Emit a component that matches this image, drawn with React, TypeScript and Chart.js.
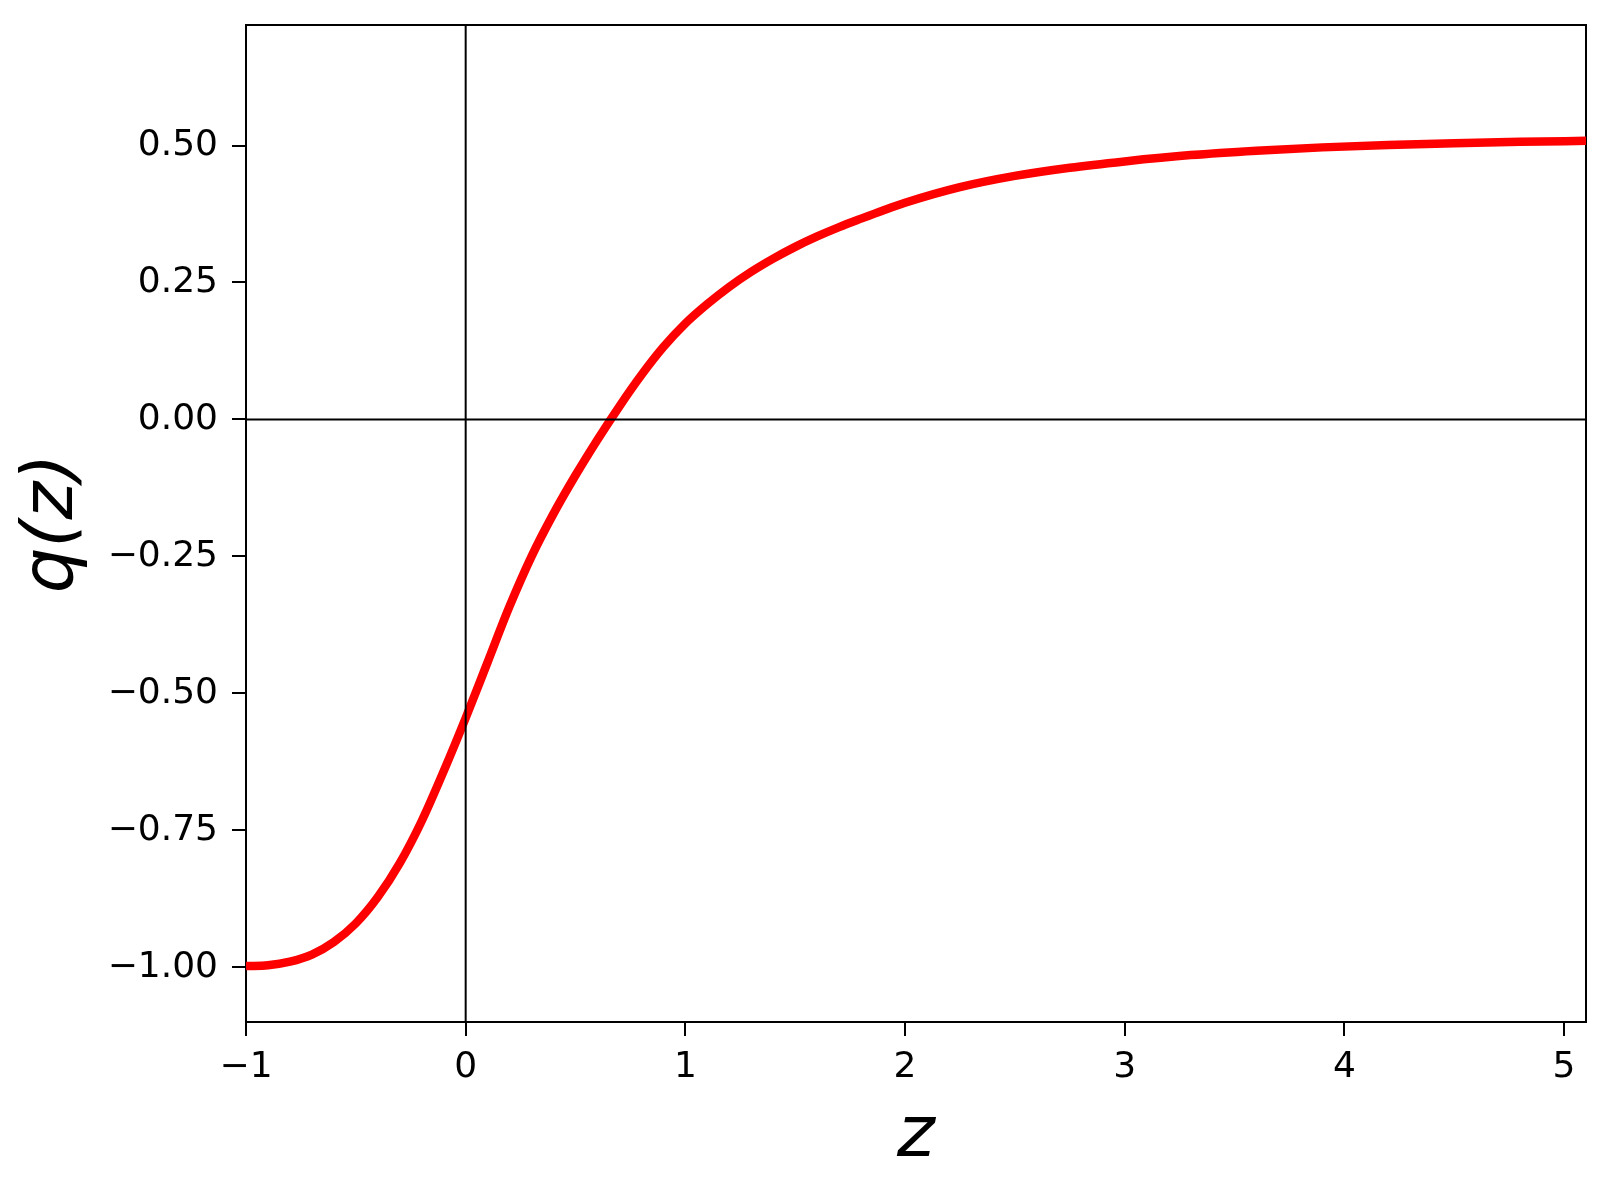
import React, { useEffect, useRef } from "react";
import { Chart, registerables } from "chart.js";

Chart.register(...registerables);

// ---- data ----
const zValues = [
  -1.0, -0.9, -0.8, -0.7, -0.6, -0.5, -0.4, -0.3, -0.2, -0.1,
  0.0, 0.1, 0.2, 0.3, 0.4, 0.5, 0.6, 0.7, 0.8, 0.9,
  1.0, 1.1, 1.2, 1.3, 1.4, 1.5, 1.6, 1.7, 1.8, 1.9,
  2.0, 2.25, 2.5, 2.75, 3.0, 3.3, 3.6, 3.9, 4.2, 4.5,
  4.8, 5.1,
];
const qValues = [
  -0.998, -0.9965, -0.99, -0.977, -0.954, -0.92, -0.872, -0.81, -0.733, -0.642,
  -0.545, -0.443, -0.341, -0.25, -0.172, -0.102, -0.037, 0.024, 0.081, 0.132,
  0.175, 0.2105, 0.242, 0.2695, 0.2935, 0.315, 0.334, 0.351, 0.3665, 0.3815,
  0.3955, 0.424, 0.4445, 0.4595, 0.471, 0.4825, 0.4906, 0.4966, 0.501, 0.5043,
  0.5068, 0.5085,
];
const xTicks = [-1, 0, 1, 2, 3, 4, 5];
const yTicks = [-1.0, -0.75, -0.5, -0.25, 0.0, 0.25, 0.5];
const xRange = [-1, 5.1];
const yRange = [-1.1, 0.72];
const xTitle = "z";
const yTitle = "q(z)";

const FONT = "'DejaVu Sans', sans-serif";
const minus = (s: string) => s.replace("-", "\u2212");

const zeroPad = (s: any) => {
  s.paddingTop = 0;
  s.paddingBottom = 0;
  s.paddingLeft = 0;
  s.paddingRight = 0;
};

export default function App() {
  const ref = useRef<HTMLCanvasElement>(null);

  useEffect(() => {
    const canvas = ref.current;
    if (!canvas) return;
    const curve = zValues.map((z, i) => ({ x: z, y: qValues[i] }));
    const hLine = [
      { x: xRange[0], y: 0 },
      { x: xRange[1], y: 0 },
    ];
    const vLine = [
      { x: 0, y: yRange[0] },
      { x: 0, y: yRange[1] },
    ];

    const chart = new Chart(canvas, {
      type: "scatter",
      data: {
        datasets: [
          {
            label: "h0",
            data: hLine,
            showLine: true,
            borderColor: "#000",
            borderWidth: 2,
            pointRadius: 0,
            order: 0,
            clip: 0,
          } as any,
          {
            label: "v0",
            data: vLine,
            showLine: true,
            borderColor: "#000",
            borderWidth: 2,
            pointRadius: 0,
            order: 0,
            clip: 0,
          } as any,
          {
            label: "q(z)",
            data: curve,
            showLine: true,
            borderColor: "#ff0000",
            borderWidth: 8.5,
            pointRadius: 0,
            cubicInterpolationMode: "monotone",
            order: 1,
            clip: 0,
          } as any,
        ],
      },
      options: {
        animation: false,
        responsive: false,
        devicePixelRatio: 1,
        events: [],
        layout: { padding: { top: 25, right: 24, left: 0, bottom: 0 } },
        plugins: {
          legend: { display: false },
          tooltip: { enabled: false },
        },
        scales: {
          x: {
            type: "linear",
            position: "bottom",
            min: xRange[0],
            max: xRange[1],
            afterBuildTicks: (s: any) => {
              s.ticks = xTicks.map((v) => ({ value: v }));
            },
            afterFit: (s: any) => {
              s.height = 162;
              zeroPad(s);
            },
            grid: {
              drawOnChartArea: false,
              drawTicks: true,
              tickLength: 14,
              lineWidth: 2,
              color: "#000",
            },
            border: { display: true, color: "#000", width: 2 },
            ticks: {
              font: { family: FONT, size: 36 },
              color: "#000",
              padding: 10,
              maxRotation: 0,
              autoSkip: false,
              callback: (v: any) => minus(String(v)),
            },
            title: {
              display: true,
              text: xTitle,
              color: "#000",
              font: { family: FONT, size: 72, style: "italic" },
              padding: { top: 0, bottom: 4 },
            },
          },
          y: {
            type: "linear",
            position: "left",
            min: yRange[0],
            max: yRange[1],
            afterBuildTicks: (s: any) => {
              s.ticks = yTicks.map((v) => ({ value: v }));
            },
            afterFit: (s: any) => {
              s.width = 246;
              zeroPad(s);
            },
            grid: {
              drawOnChartArea: false,
              drawTicks: true,
              tickLength: 14,
              lineWidth: 2,
              color: "#000",
            },
            border: { display: true, color: "#000", width: 2 },
            ticks: {
              font: { family: FONT, size: 36 },
              color: "#000",
              padding: 14,
              autoSkip: false,
              callback: (v: any) => minus(Number(v).toFixed(2)),
            },
            title: {
              display: true,
              text: yTitle,
              color: "#000",
              font: { family: FONT, size: 72, style: "italic" },
              padding: { top: 10, bottom: 0 },
            },
          },
          x2: {
            type: "linear",
            position: "top",
            min: xRange[0],
            max: xRange[1],
            grid: { display: false, drawTicks: false },
            ticks: { display: false },
            border: { display: true, color: "#000", width: 2 },
            afterFit: (s: any) => {
              s.height = 0;
              zeroPad(s);
            },
          },
          y2: {
            type: "linear",
            position: "right",
            min: yRange[0],
            max: yRange[1],
            grid: { display: false, drawTicks: false },
            ticks: { display: false },
            border: { display: true, color: "#000", width: 2 },
            afterFit: (s: any) => {
              s.width = 0;
              zeroPad(s);
            },
          },
        },
      } as any,
    });
    return () => chart.destroy();
  }, []);

  return (
    <div
      style={{
        position: "absolute",
        left: 0,
        top: 0,
        width: 1610,
        height: 1184,
        background: "#fff",
      }}
    >
      <canvas
        ref={ref}
        width={1610}
        height={1184}
        style={{ display: "block", width: 1610, height: 1184 }}
      />
    </div>
  );
}
